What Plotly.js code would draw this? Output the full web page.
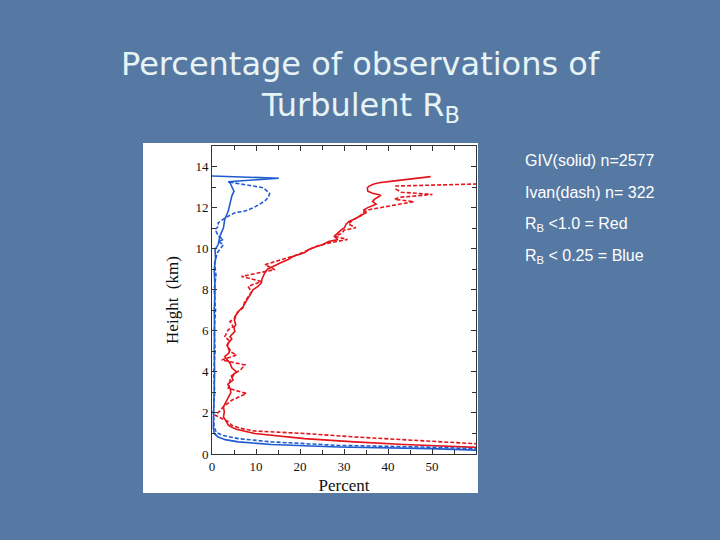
<!DOCTYPE html>
<html>
<head>
<meta charset="utf-8">
<script src="https://cdn.plot.ly/plotly-3.0.1.min.js"></script>
<style>
  html, body { margin: 0; padding: 0; background: #5679a4; }
  #chart { width: 720px; height: 540px; }
</style>
</head>
<body>
<div id="chart"></div>
<script>
(function () {
  'use strict';

  // heights (km) and percent
  var redSolidY = [0.15, 0.31, 0.46, 0.59, 0.75, 1.0, 1.2, 1.35, 1.4, 1.6, 1.81, 2.05, 2.3, 2.55, 2.79, 3.0, 3.2, 3.4, 3.6, 3.8, 4.0, 4.2, 4.42, 4.6, 4.74, 4.9, 5.07, 5.25, 5.4, 5.6, 5.72, 5.97, 6.15, 6.3, 6.5, 6.7, 6.94, 7.18, 7.4, 7.6, 7.8, 8.0, 8.15, 8.33, 8.55, 8.82, 9.0, 9.14, 9.3, 9.47, 9.63, 9.8, 9.96, 10.1, 10.2, 10.35, 10.44, 10.6, 10.77, 10.9, 11.02, 11.2, 11.34, 11.45, 11.58, 11.75, 11.88, 12.0, 12.16, 12.3, 12.4, 12.5, 12.6, 12.7, 12.8, 12.95, 13.05, 13.15, 13.21, 13.3, 13.41, 13.51];
  var redSolidX = [80, 60, 43.7, 32.4, 21, 9.7, 5.5, 4.1, 3.7, 3.2, 2.6, 2.8, 2.6, 3.2, 3.7, 4.3, 4.1, 3.6, 4.8, 4.4, 5.6, 4.5, 4.1, 3.4, 2.9, 3.8, 4.1, 3.5, 3.7, 4.5, 4.1, 5.2, 5.0, 5.4, 5.1, 5.2, 6.0, 7.1, 7.6, 8.2, 8.8, 9.3, 10.4, 11.2, 11.4, 12.0, 12.6, 13.8, 15.5, 17.3, 18.5, 21, 22, 23.8, 25.2, 26.5, 28.6, 27.8, 28.6, 29.3, 30.1, 30.5, 31.2, 32.5, 33.5, 35, 34.5, 35.4, 37.3, 36.5, 36.9, 37.8, 38.4, 36.5, 35.4, 35.3, 35.7, 36.8, 38, 41.5, 45.6, 49.7];

  var redDashY = [0.2, 0.5, 0.67, 0.83, 1.0, 1.12, 1.25, 1.4, 1.6, 1.73, 1.89, 2.1, 2.3, 2.62, 2.95, 3.2, 3.6, 3.93, 4.1, 4.34, 4.58, 4.82, 5.0, 5.3, 5.5, 5.72, 6.05, 6.2, 6.45, 6.6, 6.9, 7.13, 7.4, 7.7, 7.9, 8.16, 8.4, 8.65, 8.98, 9.22, 9.45, 9.71, 9.9, 10.1, 10.25, 10.36, 10.45, 10.6, 10.75, 10.9, 11.02, 11.2, 11.4, 11.6, 11.75, 11.9, 12.29, 12.4, 12.5, 12.64, 12.75, 12.9, 13.05, 13.18];
  var redDashX = [85, 60, 43.7, 32.4, 21, 9.7, 6.5, 4.5, 3.5, 2.2, 0.7, 1.8, 2.6, 4.5, 7.8, 3.7, 4.1, 5.2, 6.5, 7.5, 2.2, 5.6, 4.0, 3.4, 4.0, 2.9, 3.7, 4.8, 4.1, 5.2, 5.8, 7.1, 7.4, 8.4, 9.0, 8.2, 11.2, 6.7, 14.3, 12.0, 15.5, 19.5, 21.5, 23.5, 26, 28.8, 30.8, 28, 29.5, 30, 32.7, 31, 32, 33.8, 34.2, 35.7, 45.9, 41.5, 42.5, 50.1, 43, 41.8, 41.8, 66];

  var blueSolidY = [0.15, 0.26, 0.34, 0.46, 0.59, 0.7, 0.83, 1.0, 1.3, 2.0, 3.0, 4.0, 5.0, 6.0, 7.0, 8.0, 8.5, 9.0, 9.5, 9.96, 10.2, 10.6, 11.02, 11.42, 11.83, 12.24, 12.56, 12.8, 12.97, 13.2, 13.26, 13.43, 13.54];
  var blueSolidX = [66, 49.7, 28.6, 13.5, 6, 3, 1.4, 0.5, 0.3, 0.4, 0.5, 0.6, 0.5, 0.6, 0.5, 0.7, 0.6, 0.5, 0.8, 0.7, 1.4, 1.8, 2.6, 2.9, 3.7, 4.1, 4.5, 5.0, 4.6, 4.1, 3.7, 15.2, 0];

  var blueDashY = [0.2, 0.33, 0.42, 0.59, 0.75, 0.9, 1.05, 1.3, 2.0, 3.0, 4.0, 5.0, 6.0, 7.0, 8.0, 8.7, 9.3, 9.8, 10.2, 10.35, 10.45, 10.6, 10.93, 11.1, 11.26, 11.5, 11.75, 11.83, 12.0, 12.32, 12.5, 12.7, 12.97, 13.1, 13.18, 13.25];
  var blueDashX = [66, 50, 28.6, 13.5, 6, 2.5, 1.0, 0.5, 0.3, 0.6, 0.4, 0.7, 0.5, 0.8, 0.5, 0.9, 0.6, 1.2, 2.6, 1.4, 2.6, 1.5, 0.7, 1.5, 1.4, 3, 5.2, 7.5, 9.5, 12, 12.8, 13.1, 11.6, 8, 6, 3.7];

  var xTicks = [0, 10, 20, 30, 40, 50];
  var yTicks = [0, 2, 4, 6, 8, 10, 12, 14];
  var notes = ['GIV(solid) n=2577', 'Ivan(dash) n= 322', 'R<sub>B</sub> <1.0 = Red', 'R<sub>B</sub> < 0.25 = Blue'];

  var red = '#e3141b';
  var blue = '#1f5ccf';
  var serif = 'Liberation Serif, DejaVu Serif, serif';

  function trace(x, y, color, dash) {
    return { x: x, y: y, type: 'scatter', mode: 'lines',
      line: { color: color, width: 1.6, dash: dash }, hoverinfo: 'skip' };
  }

  // plot area in pixels: x 212..476, y 146..454
  var L = 212, R = 476, T = 146, B = 454;
  function px(X) { return (X - L) / (R - L); }
  function py(Y) { return (B - Y) / (B - T); }

  var annotations = [
    { text: 'Percentage of observations of', x: px(360), y: py(64) },
    { text: 'Turbulent R<sub>B</sub>', x: px(360), y: py(107) }
  ].map(function (a) {
    return { text: a.text, x: a.x, y: a.y, xref: 'paper', yref: 'paper',
      xanchor: 'center', yanchor: 'middle', showarrow: false,
      font: { family: 'DejaVu Sans, sans-serif', size: 32, color: '#e6f4f6' } };
  });
  notes.forEach(function (t, i) {
    annotations.push({ text: t, x: px(523), y: py(160 + i * 32), xref: 'paper', yref: 'paper',
      xanchor: 'left', yanchor: 'middle', showarrow: false,
      font: { family: 'Liberation Sans, Arial, sans-serif', size: 16, color: '#ffffff' } });
  });

  var axisCommon = {
    showgrid: false, zeroline: false, showline: true, linecolor: '#333', linewidth: 1,
    mirror: 'allticks', ticks: 'inside', ticklen: 5, tickcolor: '#333',
    tickfont: { family: serif, size: 13, color: '#111' }
  };

  Plotly.newPlot('chart', [
    trace(redSolidX, redSolidY, red, 'solid'),
    trace(redDashX, redDashY, red, '4px,2px'),
    trace(blueSolidX, blueSolidY, blue, 'solid'),
    trace(blueDashX, blueDashY, blue, '4px,2px')
  ], {
    width: 720, height: 540,
    margin: { l: L, r: 720 - R, t: T, b: 540 - B },
    paper_bgcolor: '#5679a4',
    plot_bgcolor: '#ffffff',
    showlegend: false,
    xaxis: Object.assign({}, axisCommon, {
      range: [0, 60], tickvals: xTicks,
      minor: { dtick: 5, ticks: 'inside', ticklen: 4, tickcolor: '#333' },
      title: { text: 'Percent', standoff: 6, font: { family: serif, size: 17, color: '#111' } }
    }),
    yaxis: Object.assign({}, axisCommon, {
      range: [0, 15], tickvals: yTicks,
      minor: { dtick: 1, ticks: 'inside', ticklen: 4, tickcolor: '#333' },
      title: { text: 'Height  (km)', standoff: 12, font: { family: serif, size: 17, color: '#111' } }
    }),
    shapes: [{
      type: 'rect', xref: 'paper', yref: 'paper', layer: 'below',
      x0: px(143), x1: px(478), y0: py(493), y1: py(143),
      fillcolor: '#ffffff', line: { width: 0 }
    }],
    annotations: annotations
  }, { displayModeBar: false, staticPlot: true });
})();
</script>
</body>
</html>
